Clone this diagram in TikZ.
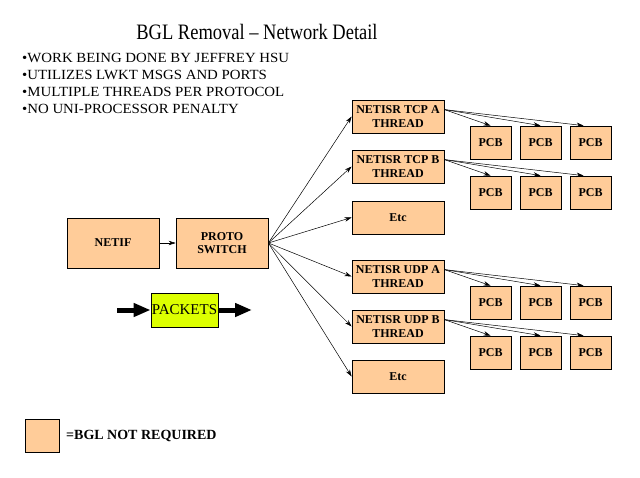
\documentclass[tikz,border=0pt]{standalone}
\usepackage{fontspec}
\setmainfont{Liberation Serif}
\newfontfamily\titlefont[FakeStretch=0.84]{Liberation Serif}
\newfontfamily\bulletfont[FakeStretch=1.06]{Liberation Serif}
\usetikzlibrary{arrows.meta,calc}
\definecolor{peach}{RGB}{255,204,153}
\definecolor{lime}{RGB}{221,255,0}
\begin{document}
\begin{tikzpicture}[x=1pt,y=-1pt,
  box/.style={draw=black,fill=peach,line width=0.8pt,inner sep=1pt,align=center,
    font=\fontsize{12}{13.5}\selectfont\bfseries},
  thr/.style={box,minimum width=92pt,minimum height=33pt},
  pcb/.style={box,minimum width=41pt,minimum height=33pt},
  conn/.style={-{Stealth[length=7pt,width=4.5pt]},line width=0.5pt},
  fat/.style={-{Triangle[length=17pt,width=13pt]},line width=5pt},
  bullet/.style={anchor=west,inner sep=0pt,font=\bulletfont\fontsize{14}{16}\selectfont}]
\useasboundingbox[fill=white] (0,0) rectangle (640,477);
\node[inner sep=0pt,font=\titlefont\fontsize{22}{26}\selectfont] (title) at (257,32) {BGL Removal – Network Detail};
\node[bullet] (b1) at (22,58) {•WORK BEING DONE BY JEFFREY HSU};
\node[bullet] (b2) at (22,75) {•UTILIZES LWKT MSGS AND PORTS};
\node[bullet] (b3) at (22,92) {•MULTIPLE THREADS PER PROTOCOL};
\node[bullet] (b4) at (22,109) {•NO UNI-PROCESSOR PENALTY};

\node[box,minimum width=92pt,minimum height=50pt] (netif) at (113,243) {NETIF};
\node[box,minimum width=92pt,minimum height=50pt] (proto) at (222,243) {PROTO\\SWITCH};
\draw[conn] (netif) -- (proto);

\node[thr] (tcpa) at (398,116.5) {NETISR TCP A\\THREAD};
\node[thr] (tcpb) at (398,166.5) {NETISR TCP B\\THREAD};
\node[thr] (etca) at (398,217.5) {Etc};
\node[thr] (udpa) at (398,276.5) {NETISR UDP A\\THREAD};
\node[thr] (udpb) at (398,326.5) {NETISR UDP B\\THREAD};
\node[thr] (etcb) at (398,376.5) {Etc};

\foreach \t in {tcpa,tcpb,etca,udpa,udpb,etcb}
  \draw[conn] (proto.east) -- (\t.west);

\foreach \t/\y in {tcpa/142.5,tcpb/192.5,udpa/302.5,udpb/352.5}{
  \node[pcb] (\t1) at (490.5,\y) {PCB};
  \node[pcb] (\t2) at (540.5,\y) {PCB};
  \node[pcb] (\t3) at (590.5,\y) {PCB};
  \coordinate (\t out) at ($(\t.north east)+(0,10)$);
  \draw[conn] (\t out) -- (\t1.north);
  \draw[conn] (\t out) -- (\t2.north);
  \draw[conn] (\t out) -- ($(\t3.north)+(-7,0)$);
}

\node[draw=black,fill=lime,line width=0.8pt,minimum width=67pt,minimum height=34pt,inner sep=0pt,
  font=\fontsize{15}{17}\selectfont] (packets) at (184.5,310) {PACKETS};
\coordinate (pin) at (117,310);
\coordinate (pout) at (252,310);
\draw[fat] (pin) -- (packets.west);
\draw[fat] (packets.east) -- (pout);

\node[box,minimum width=34pt,minimum height=33pt] (legend) at (42,435.5) {};
\node[anchor=west,inner sep=0pt,font=\fontsize{14}{16}\selectfont\bfseries] (legtext) at (66,436) {=BGL NOT REQUIRED};
\end{tikzpicture}
\end{document}
